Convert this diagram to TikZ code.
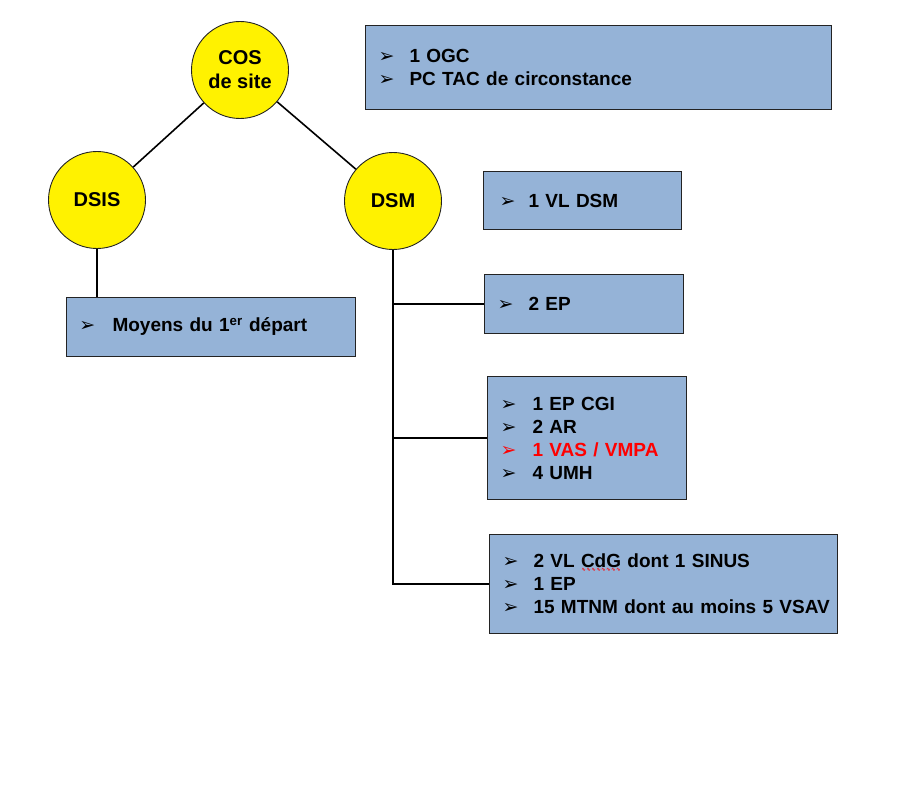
\documentclass[tikz,border=0pt]{standalone}
\usepackage{fontspec}
\setmainfont{Liberation Sans}
\newfontfamily\symfont{DejaVu Sans}
\usetikzlibrary{positioning}
\definecolor{boxblue}{RGB}{149,179,215}
\definecolor{rimgrey}{RGB}{35,35,35}
\definecolor{alertred}{RGB}{255,0,0}
\newcommand{\bul}{{\symfont\fontsize{19}{19}\selectfont ➢}}
\newcommand{\itm}[2][31pt]{\hspace*{13pt}\makebox[#1][l]{\bul}#2}
\newsavebox\wavebox
\newcommand{\redwave}[1]{\sbox\wavebox{#1}%
  \rlap{\color{alertred}\raisebox{-4pt}[0pt][0pt]{\hbox to\wd\wavebox{%
    \xleaders\hbox{\symfont\fontsize{5.5}{5.5}\selectfont ∿}\hfill}}}\usebox\wavebox}
\begin{document}
\begin{tikzpicture}[x=1pt, y=-1pt,
  every node/.style={font=\bfseries\fontsize{19}{23}\selectfont},
  chief/.style={circle, draw=rimgrey, line width=0.9pt, fill=yellow, minimum size=97pt, inner sep=0pt,
    align=center, font=\bfseries\fontsize{20}{24}\selectfont},
  unitbox/.style={draw=rimgrey, line width=1pt, fill=boxblue, anchor=north west, align=left,
    inner sep=0pt},
  link/.style={line width=1.6pt, black}]
  \useasboundingbox (0,0) rectangle (905,789);
  % ---------- command circles ----------
  \node[chief] (cos) at (240,70) {COS\\de site};
  \node[chief] (dsis) at (97,200) {DSIS};
  \node[chief] (dsm) at (393,201) {DSM};
  % ---------- resource boxes ----------
  \node[unitbox, text width=466pt, minimum height=84pt] (ogc) at (365,25)
    {\itm{1 OGC}\\ \itm{PC TAC de circonstance}};
  \node[unitbox, text width=198pt, minimum height=58pt] (vldsm) at (483,171)
    {\hspace*{3pt}\itm[29pt]{1 VL DSM}};
  \node[unitbox, text width=289pt, minimum height=59pt] (moyens) at (66,297)
    {\itm[33pt]{Moyens du 1\textsuperscript{er} départ}};
  \node[unitbox, text width=199pt, minimum height=59pt] (ep) at (484,274)
    {\itm{2 EP}};
  \node[unitbox, text width=199pt, minimum height=123pt] (cgi) at (487,376)
    {\itm[32pt]{1 EP CGI}\\ \itm[32pt]{2 AR}\\ {\color{alertred}\itm[32pt]{1 VAS / VMPA}}\\ \itm[32pt]{4 UMH}};
  \node[unitbox, text width=348pt, minimum height=99pt] (sinus) at (489,534)
    {\itm{2 VL \redwave{CdG} dont 1 SINUS}\\ \itm{1 EP}\\ \itm{15 MTNM dont au moins 5 VSAV}};
  % ---------- connectors ----------
  \draw[link] (cos) -- (dsis);
  \draw[link] (cos) -- (dsm);
  \draw[link] (dsis) -- (dsis |- moyens.north);
  \draw[link] (dsm) -- (dsm |- sinus.west) -- (sinus.west);
  \draw[link] (dsm |- ep.west) -- (ep.west);
  \draw[link] (dsm |- cgi.west) -- (cgi.west);
\end{tikzpicture}
\end{document}
